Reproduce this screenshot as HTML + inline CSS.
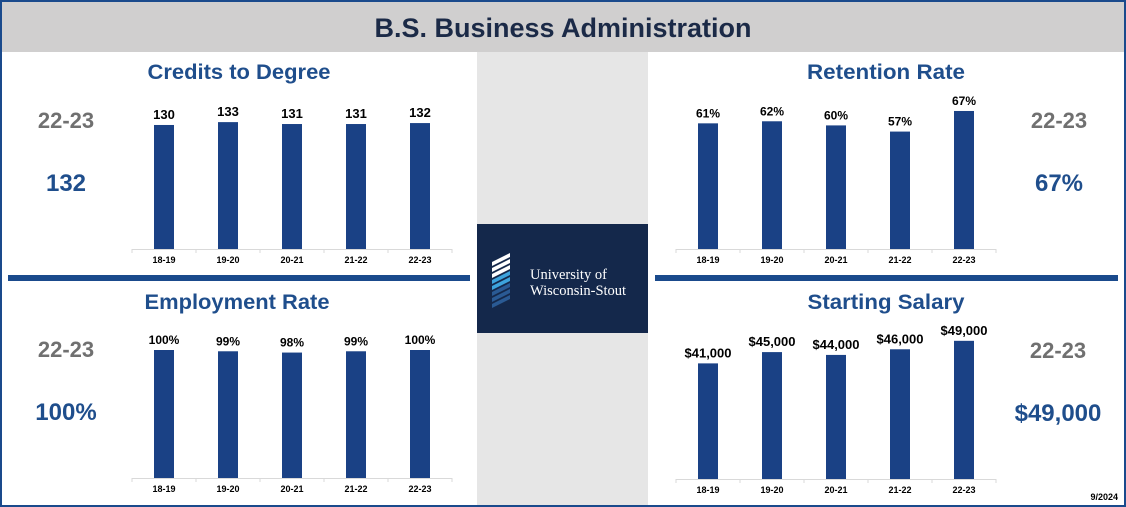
<!DOCTYPE html>
<html><head><meta charset="utf-8">
<style>
html,body{margin:0;padding:0;background:#fff;}
svg{display:block;font-family:"Liberation Sans",sans-serif;}
</style></head>
<body>
<svg id="root" width="1126" height="507" viewBox="0 0 1126 507" xmlns="http://www.w3.org/2000/svg">
  <rect x="0" y="0" width="1126" height="507" fill="#fff"/>
  <rect x="2" y="2" width="1122" height="50" fill="#d0cfcf"/>
  <text x="563" y="37" text-anchor="middle" font-size="27" font-weight="bold" fill="#1b2a47">B.S. Business Administration</text>
  <rect x="477" y="52" width="171" height="453" fill="#e6e6e6"/>
  <rect x="477" y="224" width="171" height="109" fill="#14284b"/>
  <g>
    <path d="M492 262 q8 -4 18 -9 l0 4 q-10 5 -18 9z M492 268 q8 -4 18 -9 l0 4 q-10 5 -18 9z M492 274 q8 -4 18 -9 l0 4 q-10 5 -18 9z" fill="#fff"/>
    <path d="M492 280 q8 -4 18 -9 l0 4 q-10 5 -18 9z M492 286 q8 -4 18 -9 l0 4 q-10 5 -18 9z" fill="#3da3dc"/>
    <path d="M492 292 q8 -4 18 -9 l0 4 q-10 5 -18 9z M492 298 q8 -4 18 -9 l0 4 q-10 5 -18 9z M492 304 q8 -4 18 -9 l0 4 q-10 5 -18 9z" fill="#2a5a94"/>
    <text x="530" y="279" font-family="Liberation Serif,serif" font-size="14.5" fill="#fff">University of</text>
    <text x="530" y="295" font-family="Liberation Serif,serif" font-size="14.5" fill="#fff">Wisconsin-Stout</text>
  </g>
  <rect x="8" y="275" width="462" height="6" fill="#1a4a8c"/>
  <rect x="655" y="275" width="463" height="6" fill="#1a4a8c"/>
  <rect x="1" y="1" width="1124" height="505" fill="none" stroke="#1a4a8c" stroke-width="2"/>
  <text x="1118" y="500" text-anchor="end" font-size="9" font-weight="bold" fill="#000">9/2024</text>
  <g id="charts"></g>
</svg>
<script>
const categories = ["18-19","19-20","20-21","21-22","22-23"];
const creditsValues = [130,133,131,131,132];
const creditsLabels = ["130","133","131","131","132"];
const retentionValues = [61,62,60,57,67];
const retentionLabels = ["61%","62%","60%","57%","67%"];
const employmentValues = [100,99,98,99,100];
const employmentLabels = ["100%","99%","98%","99%","100%"];
const salaryValues = [41000,45000,44000,46000,49000];
const salaryLabels = ["$41,000","$45,000","$44,000","$46,000","$49,000"];

const NS = "http://www.w3.org/2000/svg";
const root = document.getElementById('charts');
function mk(tag, attrs, parent){const e=document.createElementNS(NS,tag);for(const k in attrs)e.setAttribute(k,attrs[k]);(parent||root).appendChild(e);return e;}

function chart(cfg){
  const g = mk('g',{});
  
  
  const t = mk('text',{x:cfg.titleX,y:cfg.titleY,'text-anchor':'middle','font-size':21,'font-weight':'bold',fill:'#1f4e8c',textLength:cfg.titleW,lengthAdjust:'spacingAndGlyphs'},g);
  t.textContent = cfg.title;
  
  
  const ax = mk('line',{x1:cfg.x0,x2:cfg.x1,y1:cfg.base+0.5,y2:cfg.base+0.5,stroke:'#d9d9d9','stroke-width':1},g);
  
  
  const n = categories.length, step = (cfg.x1-cfg.x0)/n;
  const yScale = v => cfg.base - v*cfg.scale;
  for(let i=0;i<=n;i++){
    const tk = mk('line',{x1:cfg.x0+i*step,x2:cfg.x0+i*step,y1:cfg.base,y2:cfg.base+4,stroke:'#d9d9d9'},g);
    
    
  }
  categories.forEach((c,i)=>{
    const cx = cfg.x0 + step*(i+0.5);
    const y = yScale(cfg.values[i]);
    const b = mk('rect',{x:cx-10,y:y,width:20,height:cfg.base-y,fill:'#1a4185'},g);
    
    
    const lb = mk('text',{x:cx,y:y-6,'text-anchor':'middle','font-size':cfg.lblSize,'font-weight':'bold',fill:'#000'},g);
    lb.textContent = cfg.labels[i];
    
    
    const xl = mk('text',{x:cx,y:cfg.base+14,'text-anchor':'middle','font-size':9,'font-weight':'bold',fill:'#000'},g);
    xl.textContent = c;
    
    
  });
  const yr = mk('text',{x:cfg.sideX,y:cfg.base-121,'text-anchor':'middle','font-size':22,'font-weight':'bold',fill:'#707070'},g);
  yr.textContent = categories[n-1];
  
  
  const kv = mk('text',{x:cfg.sideX,y:cfg.base-58,'text-anchor':'middle','font-size':24,'font-weight':'bold',fill:'#1f4e8c'},g);
  kv.textContent = cfg.labels[n-1];
  
  
}

chart({name:'credits-chart',title:'Credits to Degree',titleX:239,titleY:79,titleW:183,x0:132,x1:452,base:249,scale:0.954,values:creditsValues,labels:creditsLabels,lblSize:13,sideX:66});
chart({name:'retention-chart',title:'Retention Rate',titleX:886,titleY:79,titleW:158,x0:676,x1:996,base:249,scale:2.06,values:retentionValues,labels:retentionLabels,lblSize:12,sideX:1059});
chart({name:'employment-chart',title:'Employment Rate',titleX:237,titleY:309,titleW:185,x0:132,x1:452,base:478,scale:1.28,values:employmentValues,labels:employmentLabels,lblSize:12,sideX:66});
chart({name:'salary-chart',title:'Starting Salary',titleX:886,titleY:309,titleW:157,x0:676,x1:996,base:479,scale:0.00282,values:salaryValues,labels:salaryLabels,lblSize:13,sideX:1058});
</script>
</body></html>
